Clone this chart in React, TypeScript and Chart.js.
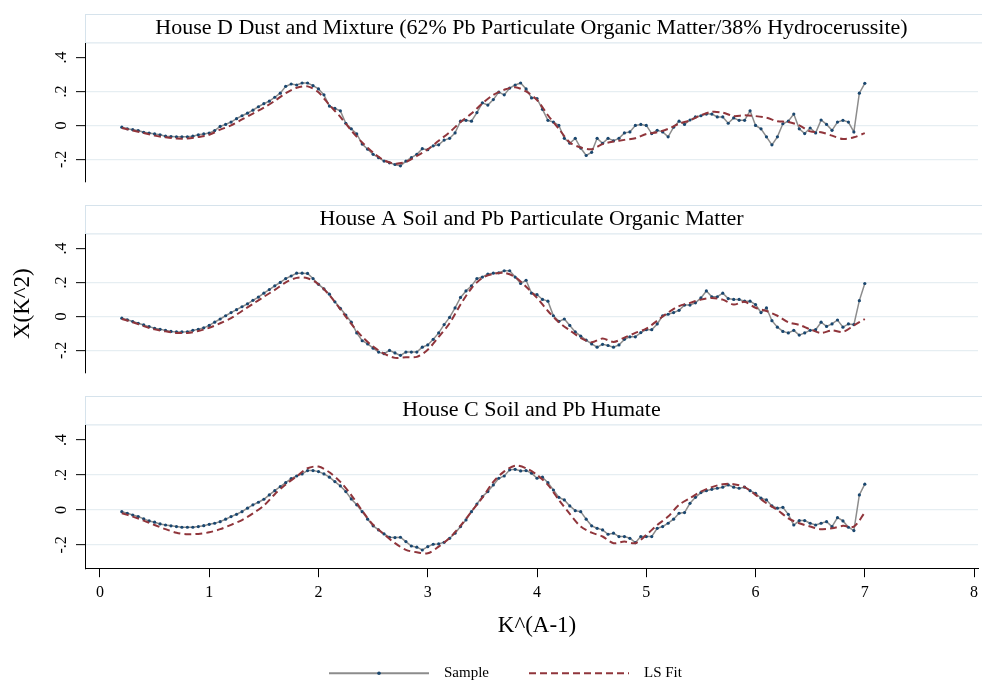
import React, { useEffect, useRef } from "react";
import { Chart, registerables } from "chart.js";

Chart.register(...registerables);

// ---------------- data ----------------
const K_START = 0.2;
const SAMPLE_STEP = 0.05;
const FIT_STEP = 0.1;

const TITLES = [
  "House D Dust and Mixture (62% Pb Particulate Organic Matter/38% Hydrocerussite)",
  "House A Soil and Pb Particulate Organic Matter",
  "House C Soil and Pb Humate",
];

const X_TICKS = [0, 1, 2, 3, 4, 5, 6, 7, 8];
const Y_TICK_VALUES = [-0.2, 0, 0.2, 0.4];
const Y_TICK_LABELS = ["-.2", "0", ".2", ".4"];
const X_TITLE = "K^(A-1)";
const Y_TITLE = "X(K^2)";
const SERIES_LABELS = ["Sample", "LS Fit"];

// House D (sample, k = 0.20 .. 7.00 step 0.05)
const SAMPLE_D = [
  -0.010, -0.020, -0.025, -0.030, -0.040, -0.045, -0.050, -0.055, -0.063, -0.065,
  -0.067, -0.067, -0.067, -0.063, -0.055, -0.050, -0.045, -0.030, -0.006, 0.006,
  0.020, 0.040, 0.057, 0.072, 0.090, 0.110, 0.128, 0.143, 0.166, 0.190,
  0.230, 0.244, 0.238, 0.250, 0.250, 0.234, 0.215, 0.180, 0.114, 0.100,
  0.086, 0.013, -0.020, -0.050, -0.110, -0.140, -0.170, -0.190, -0.210, -0.220,
  -0.230, -0.238, -0.210, -0.190, -0.170, -0.137, -0.143, -0.120, -0.114, -0.086,
  -0.076, -0.044, 0.025, 0.030, 0.025, 0.076, 0.133, 0.120, 0.152, 0.196,
  0.180, 0.220, 0.238, 0.250, 0.215, 0.162, 0.158, 0.095, 0.030, 0.020,
  0.000, -0.076, -0.105, -0.076, -0.133, -0.177, -0.158, -0.076, -0.105, -0.076,
  -0.090, -0.076, -0.044, -0.038, 0.000, 0.006, 0.000, -0.048, -0.029, -0.038,
  -0.067, -0.010, 0.025, 0.006, 0.032, 0.050, 0.057, 0.067, 0.067, 0.050,
  0.050, 0.013, 0.044, 0.030, 0.030, 0.086, 0.000, -0.020, -0.067, -0.114,
  -0.067, 0.010, 0.025, 0.067, -0.020, -0.048, -0.015, -0.044, 0.032, 0.006,
  -0.029, 0.020, 0.030, 0.020, -0.038, 0.190, 0.248,
];

// House D (LS fit, k = 0.2 .. 7.0 step 0.1)
const FIT_D = [
  -0.015, -0.030, -0.045, -0.060, -0.070, -0.077, -0.077, -0.068, -0.055, -0.025,
  0.000, 0.035, 0.070, 0.105, 0.145, 0.190, 0.222, 0.230, 0.195, 0.120,
  0.050, -0.030, -0.100, -0.160, -0.205, -0.225, -0.215, -0.180, -0.140, -0.090,
  -0.040, 0.020, 0.070, 0.130, 0.180, 0.210, 0.225, 0.200, 0.150, 0.060,
  -0.020, -0.100, -0.130, -0.140, -0.110, -0.095, -0.085, -0.075, -0.050, -0.040,
  -0.020, 0.010, 0.030, 0.060, 0.080, 0.075, 0.055, 0.060, 0.055, 0.045,
  0.025, 0.020, 0.000, -0.035, -0.040, -0.060, -0.080, -0.070, -0.045,
];

// House A
const SAMPLE_A = [
  -0.010, -0.020, -0.030, -0.040, -0.050, -0.060, -0.070, -0.076, -0.082, -0.088,
  -0.091, -0.091, -0.090, -0.082, -0.076, -0.067, -0.053, -0.034, -0.015, 0.004,
  0.023, 0.040, 0.057, 0.074, 0.095, 0.114, 0.137, 0.158, 0.180, 0.200,
  0.223, 0.238, 0.255, 0.255, 0.253, 0.223, 0.189, 0.162, 0.131, 0.086,
  0.048, 0.008, -0.034, -0.097, -0.143, -0.162, -0.187, -0.210, -0.219, -0.200,
  -0.215, -0.229, -0.210, -0.210, -0.210, -0.181, -0.168, -0.135, -0.097, -0.048,
  -0.006, 0.050, 0.112, 0.150, 0.180, 0.223, 0.232, 0.250, 0.255, 0.257,
  0.269, 0.269, 0.232, 0.194, 0.213, 0.137, 0.128, 0.100, 0.090, 0.004,
  -0.029, -0.015, -0.053, -0.091, -0.116, -0.139, -0.162, -0.181, -0.164, -0.171,
  -0.181, -0.168, -0.135, -0.120, -0.120, -0.095, -0.078, -0.078, -0.044, 0.004,
  0.013, 0.023, 0.036, 0.067, 0.067, 0.080, 0.109, 0.150, 0.116, 0.116,
  0.137, 0.105, 0.100, 0.100, 0.090, 0.090, 0.070, 0.023, 0.050, -0.025,
  -0.063, -0.088, -0.097, -0.082, -0.110, -0.097, -0.082, -0.078, -0.034, -0.059,
  -0.044, -0.021, -0.063, -0.044, -0.048, 0.093, 0.194,
];

const FIT_A = [
  -0.015, -0.034, -0.057, -0.076, -0.088, -0.097, -0.097, -0.086, -0.067, -0.040,
  -0.010, 0.032, 0.074, 0.116, 0.156, 0.200, 0.227, 0.225, 0.190, 0.125,
  0.042, -0.044, -0.120, -0.177, -0.219, -0.244, -0.240, -0.238, -0.196, -0.120,
  -0.040, 0.070, 0.166, 0.227, 0.250, 0.257, 0.232, 0.175, 0.109, 0.032,
  -0.034, -0.082, -0.126, -0.152, -0.130, -0.150, -0.125, -0.097, -0.072, -0.025,
  0.023, 0.061, 0.080, 0.099, 0.109, 0.099, 0.070, 0.086, 0.051, 0.032,
  0.004, -0.034, -0.050, -0.076, -0.097, -0.082, -0.091, -0.053, -0.015,
];

// House C
const SAMPLE_C = [
  -0.010, -0.019, -0.029, -0.038, -0.051, -0.063, -0.070, -0.080, -0.086, -0.091,
  -0.095, -0.099, -0.099, -0.099, -0.095, -0.090, -0.082, -0.076, -0.067, -0.053,
  -0.038, -0.025, -0.010, 0.010, 0.029, 0.044, 0.061, 0.086, 0.110, 0.133,
  0.156, 0.179, 0.194, 0.206, 0.225, 0.225, 0.219, 0.206, 0.187, 0.162,
  0.137, 0.105, 0.063, 0.029, -0.010, -0.053, -0.091, -0.114, -0.137, -0.156,
  -0.158, -0.156, -0.181, -0.206, -0.213, -0.229, -0.210, -0.196, -0.194, -0.185,
  -0.162, -0.133, -0.095, -0.057, -0.010, 0.034, 0.076, 0.105, 0.143, 0.181,
  0.194, 0.229, 0.232, 0.223, 0.225, 0.210, 0.181, 0.187, 0.156, 0.114,
  0.072, 0.057, 0.023, -0.004, -0.010, -0.053, -0.091, -0.105, -0.114, -0.139,
  -0.133, -0.152, -0.152, -0.162, -0.187, -0.152, -0.152, -0.152, -0.105, -0.095,
  -0.076, -0.053, -0.019, -0.015, 0.038, 0.072, 0.099, 0.110, 0.118, 0.124,
  0.130, 0.143, 0.130, 0.124, 0.130, 0.110, 0.095, 0.067, 0.057, 0.023,
  0.010, 0.015, -0.025, -0.086, -0.061, -0.061, -0.076, -0.086, -0.076, -0.067,
  -0.095, -0.044, -0.063, -0.099, -0.118, 0.086, 0.147,
];

const FIT_C = [
  -0.019, -0.038, -0.061, -0.086, -0.110, -0.130, -0.139, -0.137, -0.128, -0.110,
  -0.085, -0.058, -0.020, 0.025, 0.090, 0.145, 0.192, 0.238, 0.248, 0.215,
  0.160, 0.085, -0.005, -0.085, -0.140, -0.190, -0.228, -0.242, -0.248, -0.210,
  -0.160, -0.090, -0.010, 0.070, 0.160, 0.220, 0.253, 0.238, 0.200, 0.143,
  0.057, -0.023, -0.095, -0.130, -0.152, -0.190, -0.181, -0.190, -0.143, -0.086,
  -0.038, 0.029, 0.067, 0.105, 0.130, 0.147, 0.147, 0.130, 0.086, 0.038,
  0.000, -0.048, -0.076, -0.095, -0.110, -0.105, -0.091, -0.095, -0.015,
];

const PANELS = [
  { title: TITLES[0], sample: SAMPLE_D, fit: FIT_D },
  { title: TITLES[1], sample: SAMPLE_A, fit: FIT_A },
  { title: TITLES[2], sample: SAMPLE_C, fit: FIT_C },
];

// ---------------- style / layout ----------------
const FONT = '"Liberation Serif", "Times New Roman", serif';
const GRAY = "#8c8c8c";
const NAVY = "#1a476f";
const MAROON = "#90353b";
const GRID = "#e6eef2";
const BOX_BORDER = "#d6e3ec";

const X_MIN = -0.137;
const X_MAX = 8.036;
const Y_MIN = -0.333;
const Y_MAX = 0.483;

const W = 982;
const H = 681;
const PANEL_TOPS = [14, 205, 396];
const PANEL_H = 172;
const Y_AXIS_W = 85;

const kGrid = (n: number, step: number) =>
  Array.from({ length: n }, (_, i) => Math.round((K_START + i * step) * 1000) / 1000);

const panelPlugin = (opts: { yTitle: boolean; bottom: boolean }) => ({
  id: "stataPanel",
  beforeDraw(chart: any) {
    const ctx = chart.ctx;
    const tb = chart.titleBlock;
    const ca = chart.chartArea;
    if (tb) {
      ctx.save();
      ctx.fillStyle = "#ffffff";
      ctx.fillRect(ca.left, tb.top, chart.width - ca.left, tb.bottom - tb.top);
      ctx.strokeStyle = BOX_BORDER;
      ctx.lineWidth = 1;
      ctx.strokeRect(ca.left + 0.5, tb.top + 0.5, chart.width - ca.left + 2, tb.bottom - tb.top - 1);
      ctx.restore();
    }
  },
  afterDraw(chart: any) {
    const ctx = chart.ctx;
    const ca = chart.chartArea;
    const ys = chart.scales.y;
    ctx.save();
    ctx.fillStyle = "#000";
    ctx.font = `16px ${FONT}`;
    ctx.textAlign = "center";
    ctx.textBaseline = "middle";
    Y_TICK_VALUES.forEach((v, i) => {
      const py = ys.getPixelForValue(v);
      ctx.save();
      ctx.translate(62, py);
      ctx.rotate(-Math.PI / 2);
      ctx.fillText(Y_TICK_LABELS[i], 0, 0);
      ctx.restore();
    });
    if (opts.yTitle) {
      ctx.font = `23px ${FONT}`;
      ctx.save();
      ctx.translate(23, (ca.top + ca.bottom) / 2);
      ctx.rotate(-Math.PI / 2);
      ctx.fillText(Y_TITLE, 0, 0);
      ctx.restore();
    }
    if (opts.bottom) {
      const xs = chart.scales.x;
      ctx.font = `16px ${FONT}`;
      X_TICKS.forEach((v) => {
        ctx.fillText(String(v), xs.getPixelForValue(v), ca.bottom + 24.5);
      });
      ctx.font = `23px ${FONT}`;
      ctx.fillText(X_TITLE, xs.getPixelForValue(4), ca.bottom + 58);

      // legend
      const ly = ca.bottom + 105;
      const ds = chart.data.datasets;
      const x0 = 329;
      const symW = 100;
      const itemGap = 200;
      ctx.font = `15px ${FONT}`;
      ctx.textAlign = "left";
      [ds[0], ds[1]].forEach((d: any, i: number) => {
        const sx = x0 + i * itemGap;
        ctx.save();
        ctx.strokeStyle = d.borderColor;
        ctx.lineWidth = 2;
        ctx.setLineDash(d.borderDash || []);
        ctx.beginPath();
        ctx.moveTo(sx, ly);
        ctx.lineTo(sx + symW, ly);
        ctx.stroke();
        ctx.restore();
        if (d.pointRadius > 0) {
          ctx.beginPath();
          ctx.fillStyle = d.pointBackgroundColor;
          ctx.arc(sx + symW / 2, ly, 1.8, 0, Math.PI * 2);
          ctx.fill();
        }
        ctx.fillStyle = "#000";
        ctx.fillText(d.label, sx + symW + 15, ly);
      });
    }
    ctx.restore();
  },
});

function Panel({ idx }: { idx: number }) {
  const ref = useRef<HTMLCanvasElement | null>(null);
  const p = PANELS[idx];
  const bottom = idx === PANELS.length - 1;
  const height = bottom ? H - PANEL_TOPS[idx] : PANEL_H;

  useEffect(() => {
    if (!ref.current) return;
    const sk = kGrid(p.sample.length, SAMPLE_STEP);
    const fk = kGrid(p.fit.length, FIT_STEP);
    const chart = new Chart(ref.current, {
      type: "line",
      data: {
        datasets: [
          {
            label: SERIES_LABELS[0],
            data: sk.map((k, i) => ({ x: k, y: p.sample[i] })),
            borderColor: GRAY,
            borderWidth: 1.5,
            pointRadius: 1.6,
            pointBackgroundColor: NAVY,
            pointBorderColor: NAVY,
            pointBorderWidth: 0,
            tension: 0,
            order: 1,
          } as any,
          {
            label: SERIES_LABELS[1],
            data: fk.map((k, i) => ({ x: k, y: p.fit[i] })),
            borderColor: MAROON,
            borderWidth: 2,
            borderDash: [7, 4],
            pointRadius: 0,
            tension: 0.3,
            order: 0,
          } as any,
        ],
      },
      options: {
        animation: false,
        responsive: false,
        maintainAspectRatio: false,
        layout: { padding: 0 },
        plugins: {
          legend: { display: false },
          tooltip: { enabled: false },
          title: {
            display: true,
            text: p.title,
            fullSize: false,
            color: "#000",
            font: { family: FONT, size: 22, weight: "normal", lineHeight: 1.2 },
            padding: { top: 1.5, bottom: 1.5 },
          },
        },
        scales: {
          x: {
            type: "linear",
            min: X_MIN,
            max: X_MAX,
            display: bottom,
            afterBuildTicks: (s: any) => {
              s.ticks = X_TICKS.map((v) => ({ value: v }));
            },
            afterFit: (s: any) => {
              s.height = height - 29.4 - 142.8;
            },
            ticks: { display: false },
            grid: {
              drawOnChartArea: false,
              drawTicks: true,
              tickLength: 9,
              tickColor: "#000",
              tickWidth: 1,
            },
            border: { display: true, color: "#000", width: 1 },
          },
          y: {
            type: "linear",
            min: Y_MIN,
            max: Y_MAX,
            afterBuildTicks: (s: any) => {
              s.ticks = Y_TICK_VALUES.map((v) => ({ value: v }));
            },
            afterFit: (s: any) => {
              s.width = Y_AXIS_W;
            },
            ticks: { display: false },
            grid: {
              color: (c: any) => (c.tick && c.tick.value > 0.3 ? "rgba(0,0,0,0)" : GRID),
              lineWidth: 1.3,
              drawTicks: true,
              tickLength: 9,
              tickColor: "#000",
              tickWidth: 1,
            },
            border: { display: true, color: "#000", width: 1 },
          },
        },
      } as any,
      plugins: [panelPlugin({ yTitle: idx === 1, bottom })],
    });
    return () => chart.destroy();
  }, []);

  return (
    <canvas
      ref={ref}
      width={W}
      height={height}
      style={{ position: "absolute", left: 0, top: PANEL_TOPS[idx], width: W, height, display: "block" }}
    />
  );
}

export default function App() {
  return (
    <div
      style={{
        position: "fixed",
        left: 0,
        top: 0,
        width: W,
        height: H,
        background: "#fff",
        overflow: "hidden",
      }}
    >
      {PANELS.map((_, i) => (
        <Panel key={i} idx={i} />
      ))}
    </div>
  );
}
